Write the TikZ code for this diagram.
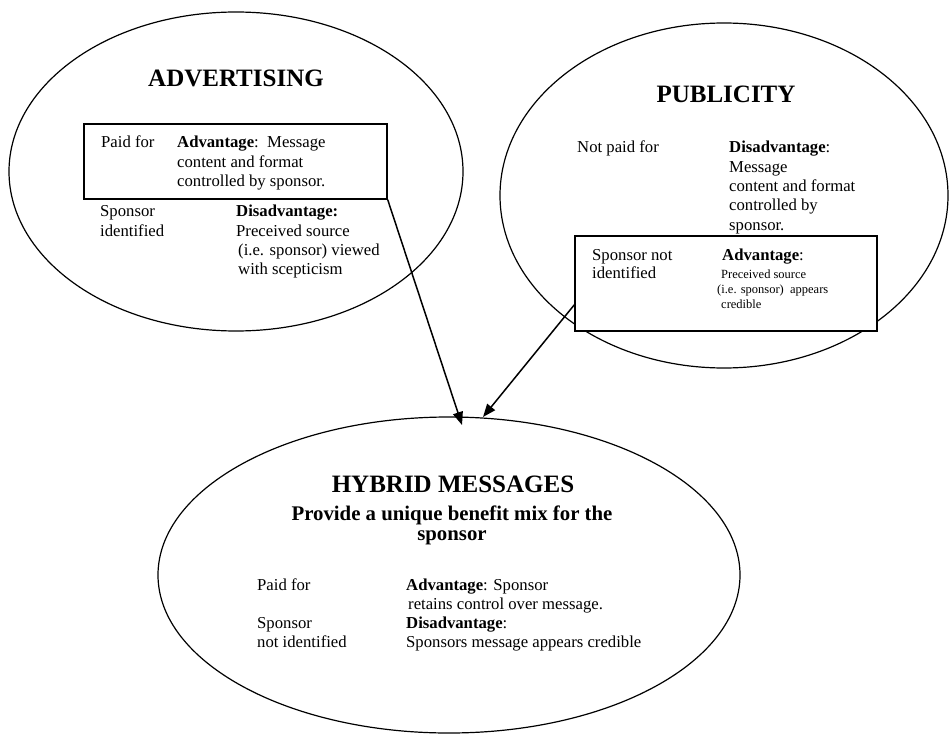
\documentclass[tikz,border=0pt]{standalone}
\usepackage{fontspec}
\setmainfont{Liberation Serif}
\usetikzlibrary{shapes.geometric,arrows.meta}
\tikzset{
  bubble/.style={ellipse, draw, line width=1.2pt, inner sep=0pt},
  framebox/.style={rectangle, draw, fill=white, line width=1.4pt, inner sep=0pt},
  txt/.style={anchor=base west, inner sep=0pt, font=\fontsize{16.7}{19.3}\selectfont},
  smalltxt/.style={anchor=base west, inner sep=0pt, font=\fontsize{12.5}{15}\selectfont},
  title/.style={anchor=base, inner sep=0pt, font=\fontsize{25}{30}\selectfont\bfseries},
  subtitle/.style={anchor=base, inner sep=0pt, font=\fontsize{20.8}{21}\selectfont\bfseries},
  link/.style={line width=1.5pt, -{Triangle[length=13pt,width=10pt]}}
}
\newcommand{\lines}[1]{\begin{tabular}[t]{@{}l@{}}#1\end{tabular}}
\begin{document}
\begin{tikzpicture}[x=1pt,y=1pt]
\useasboundingbox (0,0) rectangle (949,-735);
% ellipses
\node[bubble, minimum width=454pt, minimum height=319pt] (adv) at (236,-171.5) {};
\node[bubble, minimum width=448pt, minimum height=345pt] (pub) at (724,-195.5) {};
\node[bubble, minimum width=582pt, minimum height=316pt] (hyb) at (449,-575) {};
% boxes
\node[framebox, minimum width=303pt, minimum height=75pt] (adbox) at (235.5,-161.5) {};
\node[framebox, minimum width=302pt, minimum height=95pt] (pubbox) at (726,-283.5) {};
% ADVERTISING
\node[title] (advt) at (236,-87) {ADVERTISING};
\node[txt] (advpaid) at (101,-148) {Paid for};
\node[txt] (advadv) at (177,-148) {\lines{\textbf{Advantage}:\ \ Message\\content and format\\controlled by sponsor.}};
\node[txt] (advspon) at (100,-217) {\lines{Sponsor\\identified}};
\node[txt] (advdis) at (236,-217) {\lines{\textbf{Disadvantage:}\\Preceived source\\\hspace{2pt}(i.e. sponsor) viewed\\\hspace{2pt}with scepticism}};
% PUBLICITY
\node[title] (pubt) at (726,-103) {PUBLICITY};
\node[txt] (pubpaid) at (577,-153) {Not paid for};
\node[txt] (pubdis) at (729,-153) {\lines{\textbf{Disadvantage}:\\Message\\content and format\\controlled by\\sponsor.}};
\node[txt, font=\fontsize{16.7}{18.6}\selectfont] (pubspon) at (592,-260) {\lines{Sponsor not\\identified}};
\node[txt] (pubadv) at (722,-260) {\textbf{Advantage}:};
\node[smalltxt] (pubadvtext) at (717,-278) {\lines{\hspace{4pt}Preceived source\\(i.e. sponsor)\ \ appears\\\hspace{4pt}credible}};
% HYBRID
\node[title] (hybt) at (453,-492) {HYBRID MESSAGES};
\node[subtitle] (hybs1) at (452,-520) {Provide a unique benefit mix for the};
\node[subtitle] (hybs2) at (452,-540) {sponsor};
\node[txt] (hybpaid) at (257,-590) {Paid for};
\node[txt] (hybadv) at (406,-590) {\lines{\textbf{Advantage}: Sponsor\\\hspace{2pt}retains control over message.}};
\node[txt] (hybspon) at (257,-628) {\lines{Sponsor\\not identified}};
\node[txt] (hybdis) at (406,-628) {\lines{\textbf{Disadvantage}:\\Sponsors message appears credible}};
% connectors
\coordinate (tip1) at (462,-425);
\coordinate (tip2) at (483,-417);
\draw[link] (adbox.south east) -- (tip1);
\draw[link] (pubbox.188.85) -- (tip2);
\end{tikzpicture}
\end{document}
